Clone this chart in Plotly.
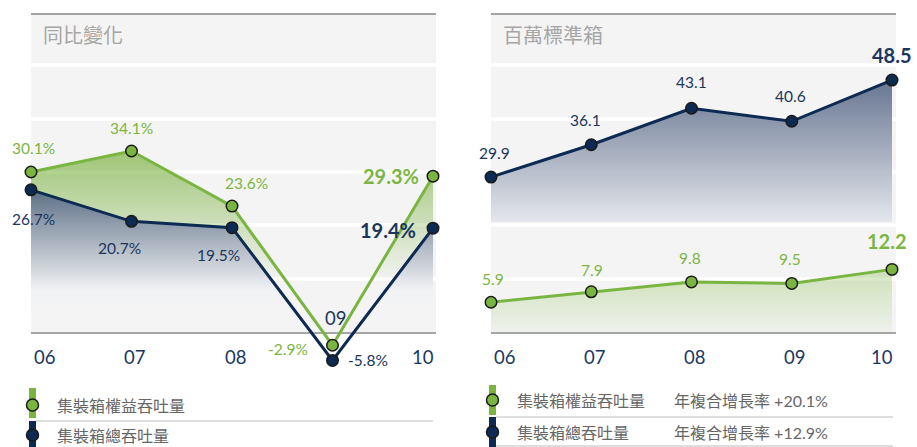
import plotly.graph_objects as go

W, H = 917, 447

# ---------------- data ----------------
years = ["06", "07", "08", "09", "10"]
equity_yoy = [30.1, 34.1, 23.6, -2.9, 29.3]     # 同比變化 (%) 集裝箱權益吞吐量
total_yoy = [26.7, 20.7, 19.5, -5.8, 19.4]      # 同比變化 (%) 集裝箱總吞吐量
equity_teu = [5.9, 7.9, 9.8, 9.5, 12.2]         # 百萬標準箱 集裝箱權益吞吐量
total_teu = [29.9, 36.1, 43.1, 40.6, 48.5]      # 百萬標準箱 集裝箱總吞吐量
series_names = ["集裝箱權益吞吐量", "集裝箱總吞吐量"]
cagr_label = "年複合增長率"
cagr_values = ["+20.1%", "+12.9%"]
panel_titles = ["同比變化", "百萬標準箱"]

# ---------------- styles ----------------
GREEN = "#7ab541"
NAVY = "#0d2a52"
NAVY_TXT = "#1b365d"
GREEN_TXT = "#7cb544"
OUTLINE = "#1a1a1a"
BG = "#f4f4f4"
NUM_FONT = "Lato"
CJK_FONT = "Lato, 'Noto Sans CJK TC'"

xs = list(range(len(years)))


def py(p):
    return 1 - p / H


def px(p):
    return p / W


fig = go.Figure()

# axes: left panel (x, y), right panel (x2, y2)
L_SLOPE, L_ZERO = 5.25, 330.0
R_SLOPE, R_ZERO = 5.215, 333.0
fig.update_layout(
    width=W, height=H,
    margin=dict(l=0, r=0, t=0, b=0),
    paper_bgcolor="white", plot_bgcolor="rgba(0,0,0,0)",
    showlegend=False,
    xaxis=dict(domain=[px(21), px(445)], range=[-10 / 100.5, 4 + 12 / 100.5], visible=False, fixedrange=True),
    yaxis=dict(domain=[0, 1], range=[(L_ZERO - H) / L_SLOPE, L_ZERO / L_SLOPE], visible=False, fixedrange=True),
    xaxis2=dict(domain=[px(481), px(905)], range=[-10 / 100.25, 4 + 13 / 100.25], visible=False, anchor="y2", fixedrange=True),
    yaxis2=dict(domain=[0, 1], range=[(R_ZERO - H) / R_SLOPE, R_ZERO / R_SLOPE], visible=False, anchor="x2", fixedrange=True),
)

# ---------------- fills ----------------
fig.add_trace(go.Scatter(
    x=xs, y=equity_yoy, mode="none", fill="tozeroy", hoverinfo="skip",
    fillgradient=dict(type="vertical", start=9, stop=max(equity_yoy),
                      colorscale=[[0, "rgba(110,170,45,0)"], [1, "rgba(110,170,45,0.64)"]]),
    xaxis="x", yaxis="y"))
fig.add_trace(go.Scatter(
    x=xs, y=total_yoy, mode="none", fill="tozeroy", hoverinfo="skip",
    fillgradient=dict(type="vertical", start=0, stop=max(total_yoy),
                      colorscale=[[0, "rgba(244,244,246,0)"], [0.28, "rgba(241,242,244,0.88)"],
                                  [1, "rgba(80,98,131,0.88)"]]),
    xaxis="x", yaxis="y"))
fig.add_trace(go.Scatter(
    x=xs, y=total_teu, mode="none", fill="tozeroy", hoverinfo="skip",
    fillgradient=dict(type="vertical", start=21.3, stop=max(total_teu),
                      colorscale=[[0, "rgba(228,231,236,0)"], [0.002, "rgba(226,229,235,0.9)"],
                                  [1, "rgba(88,104,134,0.9)"]]),
    xaxis="x2", yaxis="y2"))
fig.add_trace(go.Scatter(
    x=xs, y=equity_teu, mode="none", fill="tozeroy", hoverinfo="skip",
    fillgradient=dict(type="vertical", start=0, stop=max(equity_teu),
                      colorscale=[[0, "rgba(122,181,55,0.04)"], [1, "rgba(122,181,55,0.32)"]]),
    xaxis="x2", yaxis="y2"))

# ---------------- lines ----------------
def line_trace(y, color, xa, ya):
    return go.Scatter(
        x=xs, y=y, mode="lines+markers", hoverinfo="skip", cliponaxis=False,
        line=dict(color=color, width=3),
        marker=dict(size=11.5, color=color, line=dict(color=OUTLINE, width=1.5)),
        xaxis=xa, yaxis=ya)

fig.add_trace(line_trace(equity_yoy, GREEN, "x", "y"))
fig.add_trace(line_trace(total_yoy, NAVY, "x", "y"))
fig.add_trace(line_trace(total_teu, NAVY, "x2", "y2"))
fig.add_trace(line_trace(equity_teu, GREEN, "x2", "y2"))

# ---------------- background shapes ----------------
shapes = []


def rect(x0, y0, x1, y1, color, layer="below"):
    shapes.append(dict(type="rect", xref="paper", yref="paper", x0=px(x0), x1=px(x1),
                       y0=py(y1), y1=py(y0), fillcolor=color, line=dict(width=0), layer=layer))


def hline(x0, x1, y, color, width):
    shapes.append(dict(type="line", xref="paper", yref="paper", x0=px(x0), x1=px(x1),
                       y0=py(y), y1=py(y), line=dict(color=color, width=width), layer="below"))


def circle(cx, cy, r, color):
    shapes.append(dict(type="circle", xref="paper", yref="paper", x0=px(cx - r), x1=px(cx + r),
                       y0=py(cy + r), y1=py(cy - r), fillcolor=color,
                       line=dict(color=OUTLINE, width=1.5), layer="above"))


for x0, x1 in [(31, 436), (491, 896)]:
    rect(x0, 14, x1, 333, BG)
    for sy in [65, 119, 172, 225, 279]:
        hline(x0, x1, sy, "white", 3.5)
    hline(x0, x1, 14, "#a3a3a6", 2)
    hline(x0, x1, 333, "#a6a6a8", 2)

# legend graphics
rect(29, 388, 36, 418, GREEN, "above")
rect(29, 421, 36, 447, NAVY, "above")
hline(36, 433, 421, "#bdbdbd", 1)
circle(32.5, 405, 6, GREEN)
circle(32.5, 435, 6, NAVY)

rect(489, 385, 496, 415, GREEN, "above")
rect(489, 417, 496, 447, NAVY, "above")
hline(496, 893, 417, "#bdbdbd", 1)
hline(496, 893, 446, "#bdbdbd", 1)
circle(492.5, 400, 6, GREEN)
circle(492.5, 432, 6, NAVY)

fig.update_layout(shapes=shapes)

# ---------------- annotations ----------------
ann = []

# panel titles
for title, tx in zip(panel_titles, [41, 501]):
    ann.append(dict(text=title, xref="paper", yref="paper", x=px(tx), y=py(34),
                    xanchor="left", yanchor="middle", showarrow=False,
                    font=dict(family="Noto Sans CJK TC", size=20, color="#a6a6a6")))


def value_labels(vals, fmt, color, offsets, xa, ya):
    n = len(vals)
    for i, (v, (dx, dy)) in enumerate(zip(vals, offsets)):
        last = i == n - 1
        txt = fmt.format(v)
        ann.append(dict(text=("<b>%s</b>" % txt) if last else txt, xref=xa, yref=ya, x=xs[i], y=v,
                        xshift=dx, yshift=-dy, xanchor="center", yanchor="middle", showarrow=False,
                        font=dict(family=NUM_FONT, size=20 if last else 15.5, color=color)))


value_labels(equity_yoy, "{:.1f}%", GREEN_TXT, [(2, -24), (0, -23), (14, -23), (-45, 4), (-42, 0)], "x", "y")
value_labels(total_yoy, "{:.1f}%", NAVY_TXT, [(2, 29), (-12, 27), (-14, 27), (35, 0), (-45, 2)], "x", "y")
value_labels(total_teu, "{:.1f}", NAVY_TXT, [(3, -24), (-6, -25), (0, -26), (-1, -25), (0, -25)], "x2", "y2")
value_labels(equity_teu, "{:.1f}", GREEN_TXT, [(2, -23), (1, -22), (-2, -24), (-2, -24), (-5, -28)], "x2", "y2")

# x tick labels (drawn as text under each panel)
tick_y_override = {("x", 3): 318}
for xa in ["x", "x2"]:
    for i, lab in enumerate(years):
        anchor = "left" if i == 0 else ("right" if i == len(years) - 1 else "center")
        shift = 1 if i == 0 else 3
        ty = tick_y_override.get((xa, i), 357)
        ann.append(dict(text=lab, xref=xa, yref="paper", x=xs[i], y=py(ty), xshift=shift,
                        xanchor=anchor, yanchor="middle", showarrow=False,
                        font=dict(family=NUM_FONT, size=18.5, color=NAVY_TXT)))

# legend texts
legend_font = dict(family=CJK_FONT, size=16, color="#666666")
for name, ly in zip(series_names, [405, 435]):
    ann.append(dict(text=name, xref="paper", yref="paper", x=px(55), y=py(ly),
                    xanchor="left", yanchor="middle", showarrow=False, font=legend_font))
for name, cg, ly in zip(series_names, cagr_values, [400, 432]):
    ann.append(dict(text=name, xref="paper", yref="paper", x=px(515), y=py(ly),
                    xanchor="left", yanchor="middle", showarrow=False, font=legend_font))
    ann.append(dict(text="%s %s" % (cagr_label, cg), xref="paper", yref="paper", x=px(672), y=py(ly),
                    xanchor="left", yanchor="middle", showarrow=False, font=legend_font))

fig.update_layout(annotations=ann)

fig.write_html(
    "out.html",
    config={"displayModeBar": False},
    post_script="document.body.style.margin='0';document.body.style.padding='0';"
                "document.documentElement.style.margin='0';document.body.style.overflow='hidden';",
)
